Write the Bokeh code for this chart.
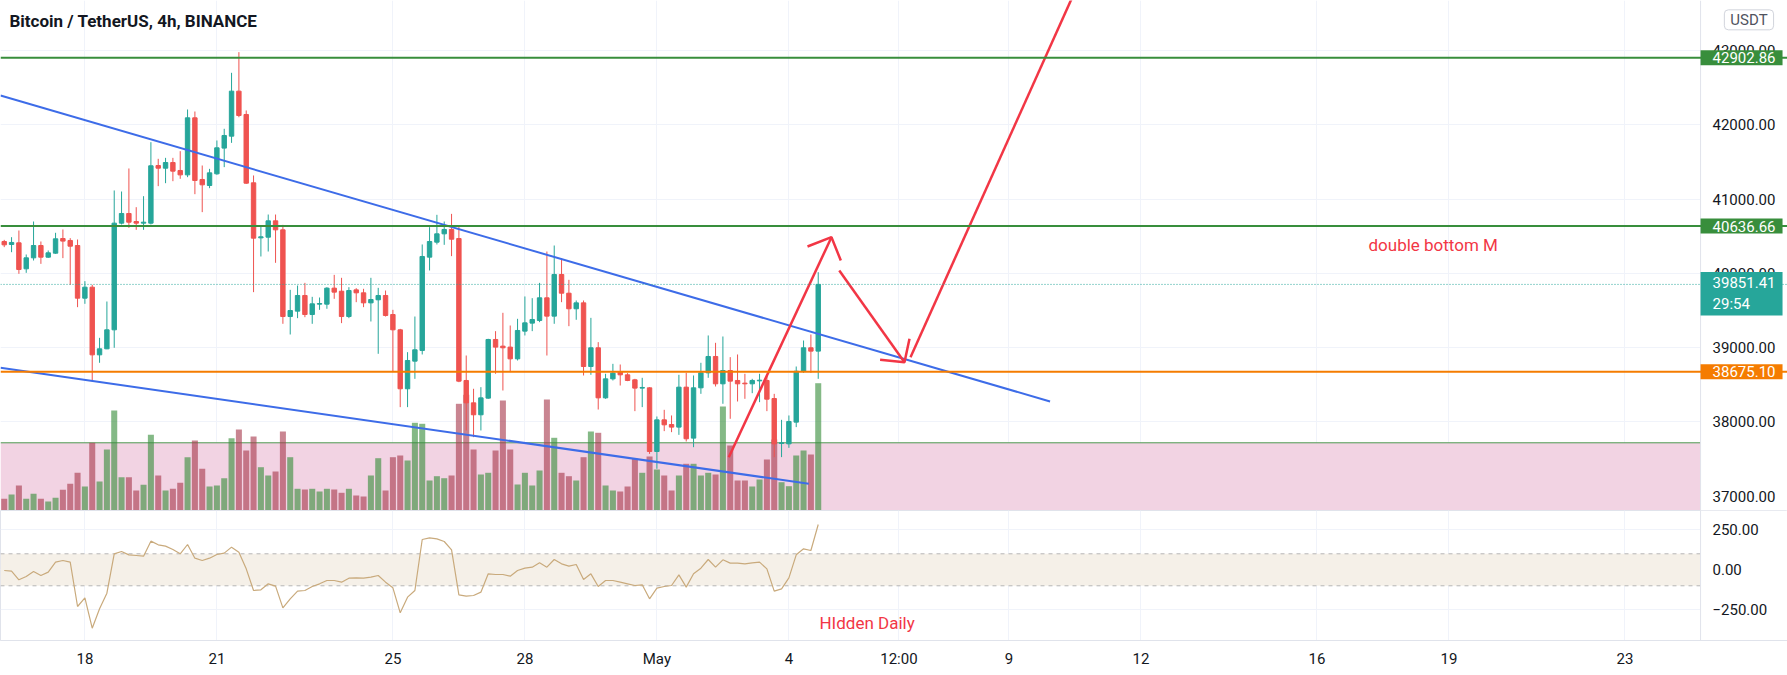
from bokeh.plotting import figure
from bokeh.layouts import column
from bokeh.models import Range1d, FixedTicker, Span, BoxAnnotation, Label
from bokeh.embed import file_html
from bokeh.resources import INLINE

# ---------------- data ----------------
# 4h candles, x = day of April (May 1 = 31), first visible bar at Apr 16 04:00
opens = [40429, 40389, 40411, 40061, 40209, 40375, 40218, 40272, 40469, 40443,
         40375, 39666, 39814, 38903, 38984, 39240, 40676, 40806, 40698, 40676,
         40676, 41452, 41416, 41492, 41385, 41326, 42094, 41264, 41183, 41340,
         41686, 41847, 42453, 42139, 41219, 40478, 40487, 40707, 40586, 39419,
         39491, 39702, 39446, 39585, 39585, 39801, 39760, 39419, 39778, 39738,
         39603, 39644, 39702, 39446, 39240, 38446, 38818, 38962, 40218, 40420,
         40532, 40591, 40469, 38558, 38257, 38096, 38320, 39110, 39020, 39007,
         38849, 39222, 39330, 39366, 39671, 39424, 39985, 39733, 39523, 39603,
         38746, 38998, 38324, 38580, 38670, 38634, 38567, 38455, 38459, 37602,
         38028, 37965, 37930, 38468, 37782, 38459, 38661, 38881, 38513, 38692,
         38558, 38522, 38513, 38553, 38558, 38315, 37710, 37705, 37997, 38683,
         38998, 38953]
closes = [40384, 40416, 40052, 40209, 40375, 40218, 40276, 40465, 40434, 40366,
          39666, 39814, 38903, 38984, 39240, 40676, 40806, 40689, 40676, 40689,
          41448, 41416, 41492, 41376, 41326, 42094, 41250, 41192, 41353, 41690,
          41856, 42453, 42125, 41214, 40474, 40492, 40707, 40586, 39419, 39500,
          39702, 39446, 39590, 39594, 39801, 39747, 39419, 39769, 39738, 39603,
          39648, 39702, 39433, 39240, 38446, 38827, 38971, 40227, 40429, 40532,
          40591, 40460, 38549, 38257, 38096, 38324, 39110, 39007, 38998, 38849,
          39231, 39334, 39379, 39671, 39424, 39985, 39733, 39523, 39603, 38746,
          38998, 38324, 38580, 38657, 38634, 38558, 38455, 38464, 37602, 38028,
          37961, 37930, 38468, 37773, 38459, 38661, 38881, 38513, 38692, 38549,
          38513, 38513, 38558, 38562, 38306, 37705, 37719, 38006, 38683, 38998,
          38953, 39851.41]
highs = [40451, 40487, 40577, 40254, 40698, 40429, 40308, 40546, 40591, 40474,
         40456, 39895, 39846, 39132, 39621, 41116, 41102, 41412, 40891, 41039,
         41766, 41542, 41555, 41555, 41645, 42206, 42179, 41452, 41407, 41789,
         41946, 42700, 42978, 42193, 41318, 40644, 40792, 40792, 40653, 39778,
         39836, 39872, 39684, 39675, 39814, 39980, 39940, 39814, 39801, 39792,
         39940, 39805, 39769, 39509, 39253, 38939, 39419, 40389, 40622, 40788,
         40698, 40801, 40644, 38894, 38446, 38468, 39119, 39222, 39469, 39298,
         39388, 39689, 39666, 39872, 40294, 40375, 40205, 39913, 39635, 39635,
         39401, 39074, 38648, 38782, 38773, 38657, 38580, 38594, 38468, 38073,
         38163, 38087, 38634, 38661, 38625, 38796, 39164, 39065, 39150, 38872,
         38908, 38648, 38580, 38648, 38625, 38378, 38028, 38087, 38746, 39096,
         39177, 40016]
lows = [40353, 40285, 39994, 40007, 40173, 40128, 40209, 40263, 40205, 39846,
        39545, 39590, 38549, 38796, 38980, 38998, 40658, 40613, 40586, 40586,
        40658, 41174, 41214, 41241, 41273, 41295, 41066, 40824, 41147, 41327,
        41430, 41757, 42102, 41205, 39747, 40227, 40294, 40142, 39321, 39177,
        39397, 39410, 39321, 39509, 39523, 39657, 39330, 39397, 39612, 39545,
        39352, 38917, 39419, 38670, 38199, 38199, 38580, 38908, 40039, 40389,
        40384, 40232, 38535, 37885, 37795, 37885, 38311, 38648, 38423, 38670,
        38827, 39164, 39222, 39343, 38894, 39321, 39612, 39289, 39375, 38625,
        38634, 38167, 38311, 38558, 38490, 38549, 38145, 38199, 37570, 37369,
        37876, 37862, 37826, 37737, 37660, 38378, 38594, 38477, 38244, 38042,
        38275, 38311, 38387, 38266, 38145, 37526, 37526, 37651, 37930, 38661,
        38661, 38580]
volumes = [1170, 1600, 2500, 1170, 1670, 1170, 900, 1270, 2070, 2670,
           3770, 2400, 6770, 2900, 6100, 10000, 3330, 3330, 2000, 2570,
           7570, 3500, 2000, 2170, 2770, 5330, 7000, 4170, 2400, 2500,
           3230, 7230, 8100, 6000, 7400, 4330, 3500, 3900, 7900, 5330,
           2170, 2100, 2170, 1900, 2170, 2100, 1770, 2170, 1500, 1400,
           3500, 5230, 2000, 5330, 5500, 5000, 8770, 8670, 3000, 3430,
           3230, 3500, 10670, 11570, 6100, 3600, 3770, 6000, 11000, 6100,
           2600, 3770, 2500, 4000, 11100, 7270, 3770, 3430, 3000, 5330,
           7900, 7770, 2500, 2000, 1900, 2400, 5170, 3770, 5400, 4100,
           3500, 2000, 3500, 4670, 4670, 3500, 3770, 3600, 10400, 6500,
           3000, 3000, 2400, 3100, 5100, 7100, 2830, 2430, 5500, 6000,
           5600, 12730]
cci = [-4.4, -8.5, -62.7, -41.9, -10.6, -35.6, -14.8, 47.7, 58.1, 47.7,
       -229.4, -175.2, -364.8, -244.0, -146.0, 99.8, 114.4, 93.5, 89.4, 85.2,
       179.0, 156.0, 147.7, 126.9, 99.8, 158.1, 72.7, 58.1, 72.7, 95.6,
       104.0, 141.5, 110.2, 6.0, -129.4, -125.2, -87.7, -102.3, -237.7, -181.5,
       -133.5, -129.4, -104.4, -87.7, -66.9, -66.9, -77.3, -52.3, -50.2, -52.3,
       -46.0, -35.6, -77.3, -112.7, -268.9, -171.0, -129.4, 189.4, 199.8, 193.5,
       176.9, 124.8, -156.5, -164.8, -160.6, -139.8, -25.2, -29.4, -29.4, -39.8,
       -4.4, 10.2, 16.5, 43.5, 16.5, 64.4, 37.3, 22.7, 33.1, -60.6,
       -25.2, -104.4, -66.9, -66.9, -77.3, -87.7, -98.1, -94.0, -181.5, -114.8,
       -104.4, -98.1, -31.5, -108.5, -25.2, 10.2, 64.4, 16.5, 62.3, 41.5,
       41.5, 37.3, 43.5, 47.7, 6.0, -133.5, -118.9, -50.2, 93.5, 131.0,
       120.6, 283.1]

first_bar_day = 16 + 1 / 6
bar_day = [first_bar_day + k / 6 for k in range(len(opens))]

x_ticks = [18, 21, 25, 28, 31, 34, 36.5, 39, 42, 46, 49, 53]
x_labels = ["18", "21", "25", "28", "May", "4", "12:00", "9", "12", "16", "19", "23"]
price_ticks = [37000, 38000, 39000, 40000, 41000, 42000, 43000]
cci_ticks = [-250, 0, 250]
cci_labels = ["\u2212250.00", "0.00", "250.00"]

level_top = 42902.86
level_mid = 40636.66
level_orange = 38675.10
last_price = 39851.41
countdown = "29:54"
zone_top = 37719

# drawings (day, price)
trend_upper_x = [16.082, 39.936]
trend_upper_y = [42394, 38275]
trend_lower_x = [16.082, 34.452]
trend_lower_y = [38729, 37167]
arrows_x = [[32.634, 34.968], [34.423, 34.968, 35.180],
            [35.145, 36.627], [36.073, 36.627, 36.741],
            [36.764, 40.816]]
arrows_y = [[37525, 40487], [40362, 40487, 40173],
            [40039, 38804], [38836, 38804, 39119],
            [38871, 44212]]

# ---------------- layout ----------------
W = 1787
H_MAIN = 510
H_LOW = 165
XB = 35
X0 = 16.082          # left edge of the canvas
XS = 54.72           # price-scale separator
XR = X0 + W / 44.0   # right edge of the canvas (44 px per day)
FONT = "Roboto"
TXT = "#131722"
GRID = "#f0f3fa"
SEP = "#e0e3eb"
UP, DN = "#26a69a", "#ef5350"


def style_price_axis(a):
    a.major_tick_line_color = None
    a.minor_tick_line_color = None
    a.major_tick_out = 0
    a.major_tick_in = 0
    a.axis_line_color = None
    a.major_label_standoff = -75
    a.major_label_text_font = FONT
    a.major_label_text_font_size = "15px"
    a.major_label_text_color = TXT


p = figure(width=W, height=H_MAIN, x_range=Range1d(X0, XR), y_range=Range1d(36807.5, 43673.4),
           x_axis_location=None, y_axis_location="right", output_backend="svg",
           toolbar_location=None, min_border_left=0, min_border_right=0,
           min_border_top=0, min_border_bottom=0)
p.outline_line_color = None
p.background_fill_color = "white"
p.border_fill_color = "white"
ax = p.yaxis[0]
ax.ticker = FixedTicker(ticks=price_ticks)
ax.major_label_overrides = {t: f"{t:.2f}" for t in price_ticks}
style_price_axis(ax)
p.ygrid.grid_line_color = GRID
p.xgrid.ticker = FixedTicker(ticks=x_ticks)
p.xgrid.grid_line_color = GRID

p.add_layout(BoxAnnotation(top=zone_top, fill_color="#f2d3e3", fill_alpha=1.0,
                           line_color=None, level="underlay"))
p.add_layout(Span(location=zone_top, dimension="width", line_color="#4f9a52",
                  line_width=1, level="underlay"))
# price-scale area background
p.add_layout(BoxAnnotation(left=XS, fill_color="white", fill_alpha=1.0,
                           line_color=None, level="underlay"))
p.add_layout(Span(location=XS, dimension="height", line_color=SEP, line_width=1,
                  level="underlay"))

up = [c >= o for o, c in zip(opens, closes)]
col = [UP if u else DN for u in up]
vcol = ["#388e3c" if u else "#a83a4e" for u in up]

p.extra_y_ranges = {"vol": Range1d(0, 51000)}
p.vbar(x=bar_day, width=0.137, top=volumes, bottom=0, y_range_name="vol",
       fill_color=vcol, fill_alpha=0.62, line_color=None)

p.segment(x0=bar_day, y0=lows, x1=bar_day, y1=highs, line_color=col, line_width=1)
p.vbar(x=bar_day, width=0.1,
       top=[max(o, c) for o, c in zip(opens, closes)],
       bottom=[min(o, c) for o, c in zip(opens, closes)],
       fill_color=col, line_color=col, line_width=1)

p.add_layout(Span(location=last_price, dimension="width", line_color="#26a69a",
                  line_dash="1 2", line_width=1))
p.add_layout(Span(location=level_top, dimension="width", line_color="#388e3c", line_width=2))
p.add_layout(Span(location=level_mid, dimension="width", line_color="#388e3c", line_width=2))
p.add_layout(Span(location=level_orange, dimension="width", line_color="#f57c00", line_width=2))

p.line(trend_upper_x, trend_upper_y, line_color="#3d6ce8", line_width=2)
p.line(trend_lower_x, trend_lower_y, line_color="#3d6ce8", line_width=2)
p.multi_line(arrows_x, arrows_y, line_color="#f23645", line_width=2.5)

p.add_layout(Label(x=16.287, y=43397, text="Bitcoin / TetherUS, 4h, BINANCE",
                   text_font=FONT, text_font_size="17px", text_font_style="bold",
                   text_color=TXT, text_baseline="middle", text_align="left"))
p.add_layout(Label(x=47.173, y=40384, text="double bottom M", text_font=FONT,
                   text_font_size="17px", text_color="#f23645",
                   text_baseline="middle", text_align="left"))


def tag(yv, text, bg):
    # box anchored at the price-scale separator; padding (left, right, top, bottom)
    return Label(x=XS, y=yv, text=text, x_offset=0, text_font=FONT,
                 text_font_size="15px", text_color="white", text_baseline="middle",
                 text_align="left", background_fill_color=bg, background_fill_alpha=1.0,
                 padding=(12, 7, 2, 2))


p.add_layout(tag(level_top, f"{level_top:.2f}", "#388e3c"))
p.add_layout(tag(level_mid, f"{level_mid:.2f}", "#388e3c"))
p.add_layout(tag(level_orange, f"{level_orange:.2f}", "#f57c00"))
p.add_layout(tag(last_price - 125, f"{last_price:.2f}\n{countdown}", "#26a69a"))
p.add_layout(Label(x=55.82, y=43413, text="USDT", text_font=FONT, text_font_size="15px",
                   text_color="#50535e", text_baseline="middle", text_align="center",
                   background_fill_color="white", background_fill_alpha=1.0,
                   border_line_color="#d1d4dc", border_radius=4, padding=(6, 6, 1, 1)))

# ---------------- CCI panel ----------------
q = figure(width=W, height=H_LOW, x_range=p.x_range, y_range=Range1d(-441.9, 370.6),
           y_axis_location="right", output_backend="svg", toolbar_location=None,
           min_border_left=0, min_border_right=0, min_border_top=0, min_border_bottom=XB)
q.outline_line_color = SEP
q.background_fill_color = "white"
q.border_fill_color = "white"
qa = q.yaxis[0]
qa.ticker = FixedTicker(ticks=cci_ticks)
qa.major_label_overrides = dict(zip(cci_ticks, cci_labels))
style_price_axis(qa)
xa = q.xaxis[0]
xa.ticker = FixedTicker(ticks=x_ticks)
xa.major_label_overrides = dict(zip(x_ticks, x_labels))
xa.major_tick_line_color = None
xa.minor_tick_line_color = None
xa.major_tick_out = 0
xa.major_tick_in = 0
xa.axis_line_color = SEP
xa.major_label_text_font = FONT
xa.major_label_text_font_size = "15px"
xa.major_label_text_color = TXT
xa.major_label_standoff = 9
q.xgrid.ticker = FixedTicker(ticks=x_ticks)
q.xgrid.grid_line_color = GRID
q.ygrid.grid_line_color = GRID

q.add_layout(BoxAnnotation(bottom=-100, top=100, fill_color="#f5f0e8", fill_alpha=1.0,
                           line_color=None, level="underlay"))
q.add_layout(Span(location=100, dimension="width", line_color="#b5b5b5", line_dash="4 4",
                  line_width=1, level="underlay"))
q.add_layout(Span(location=-100, dimension="width", line_color="#b5b5b5", line_dash="4 4",
                  line_width=1, level="underlay"))
q.add_layout(BoxAnnotation(left=XS, fill_color="white", fill_alpha=1.0,
                           line_color=None, level="underlay"))
q.add_layout(Span(location=XS, dimension="height", line_color=SEP, line_width=1,
                  level="underlay"))
q.line(bar_day, cci, line_color="#c9aa7c", line_width=1.2)
q.add_layout(Label(x=34.695, y=-335, text="HIdden Daily", text_font=FONT,
                   text_font_size="17px", text_color="#f23645",
                   text_baseline="middle", text_align="left"))

layout = column(p, q, spacing=0)
open("out.html", "w").write(file_html(layout, INLINE))
